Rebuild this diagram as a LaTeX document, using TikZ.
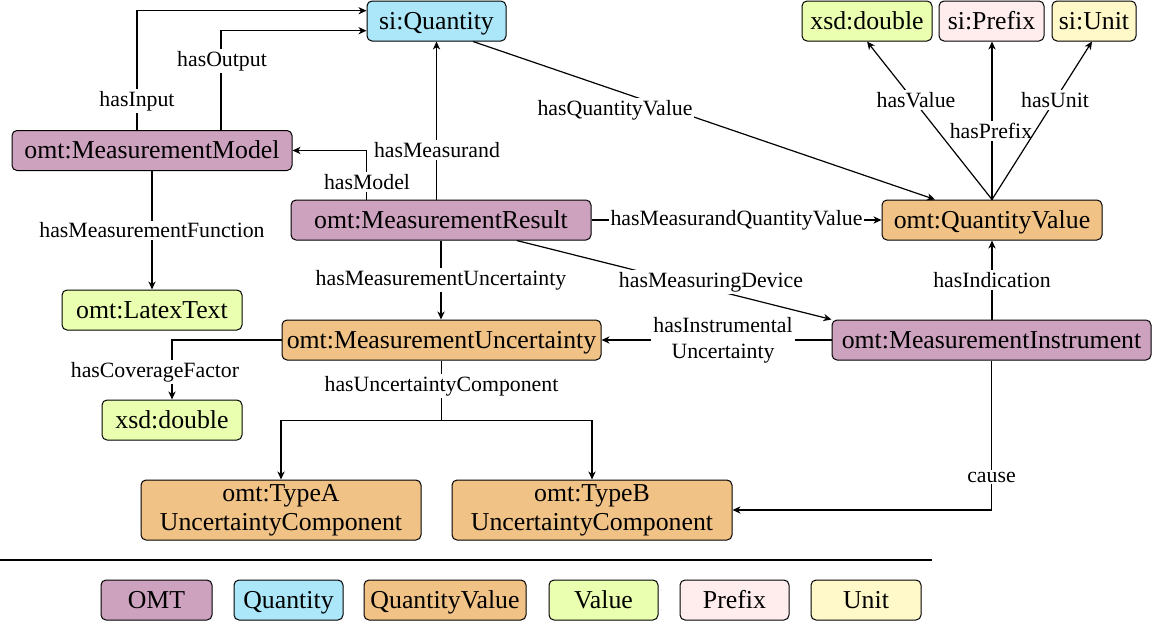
\documentclass[tikz,border=0pt]{standalone}
\usepackage{fontspec}
\setmainfont{Liberation Serif}
\usetikzlibrary{arrows.meta,calc}
\definecolor{omtC}{HTML}{CDA2BE}
\definecolor{qtyC}{HTML}{ABE7F9}
\definecolor{qvC}{HTML}{F0C286}
\definecolor{valC}{HTML}{EBFFB0}
\definecolor{preC}{HTML}{FFEDED}
\definecolor{unitC}{HTML}{FFF8C8}
\newcommand\nodefont{\fontsize{12.9}{14.5}\selectfont}
\newcommand\lblfont{\fontsize{10.9}{13}\selectfont}
\begin{document}
\begin{tikzpicture}[x=0.5pt,y=-0.5pt,
  box/.style={draw, rounded corners=2.5pt, line width=0.5pt, minimum height=20pt,
    inner sep=0pt, font=\nodefont, align=center, text height=10.6pt, text depth=2.4pt},
  twoline/.style={text height=, text depth=, minimum height=30pt},
  omtbox/.style={box, fill=omtC},
  qtybox/.style={box, fill=qtyC},
  qvbox/.style={box, fill=qvC},
  valbox/.style={box, fill=valC},
  prebox/.style={box, fill=preC},
  unitbox/.style={box, fill=unitC},
  conn/.style={line width=0.6pt},
  arr/.style={conn, -{Stealth[length=4pt,width=3.6pt,inset=1.2pt]}},
  lbl/.style={fill=white, inner sep=1pt, font=\lblfont, align=center},
]
\useasboundingbox (0,0) rectangle (1152,621);

% classes
\node[qtybox, minimum width=69.5pt] (q)  at (436.5,21) {si:Quantity};
\node[valbox, minimum width=65pt]   (vd) at (867,21)   {xsd:double};
\node[prebox, minimum width=52.5pt] (pf) at (991.5,21) {si:Prefix};
\node[unitbox, minimum width=42pt]  (un) at (1094,21)  {si:Unit};
\node[omtbox, minimum width=140pt]  (mm) at (152,150.5) {omt:MeasurementModel};
\node[omtbox, minimum width=150pt]  (mr) at (441,220)  {omt:MeasurementResult};
\node[qvbox, minimum width=110pt]   (qv) at (992,220)  {omt:QuantityValue};
\node[valbox, minimum width=90pt]   (lt) at (152,310)  {omt:LatexText};
\node[qvbox, minimum width=159.5pt] (mu) at (441.5,340) {omt:MeasurementUncertainty};
\node[omtbox, minimum width=159.5pt] (mi) at (991.5,340) {omt:MeasurementInstrument};
\node[valbox, minimum width=70pt]   (xd) at (172,420)  {xsd:double};
\node[qvbox, twoline, minimum width=140pt] (ta) at (281,510) {omt:TypeA\\UncertaintyComponent};
\node[qvbox, twoline, minimum width=140pt] (tb) at (592,510) {omt:TypeB\\UncertaintyComponent};

% properties
\draw[arr] ($(mm.north)+(-15,0)$) |- ($(q.west)+(0,-10.3)$)
  node[lbl] (lInput) at (137,101) {hasInput};
\draw[arr] ($(mm.north)+(69,0)$) |- ($(q.west)+(0,9.7)$)
  node[lbl] (lOutput) at (222,61) {hasOutput};
\draw[arr] ($(mr.north)+(-74.5,0)$) |- (mm.east)
  node[lbl] (lModel) at (367,182) {hasModel};
\draw[arr] (q.south |- mr.north) -- (q.south)
  node[lbl] (lMeasurand) at (437,150) {hasMeasurand};
\draw[arr] ($(q.south)+(36.5,0)$) -- ($(qv.north)+(-57,0)$)
  node[lbl] (lQV) at (615,110) {hasQuantityValue};
\draw[arr] (mr.east) -- (qv.west)
  node[lbl, midway] (lMQV) {hasMeasurandQuantityValue};
\draw[arr] (qv.north) -- (vd.south)
  node[lbl] (lValue) at (916,100) {hasValue};
\draw[arr] (qv.north) -- (qv.north |- pf.south)
  node[lbl] (lPrefix) at (991,131) {hasPrefix};
\draw[arr] (qv.north) -- ($(un.south)+(-2,0)$)
  node[lbl] (lUnit) at (1055,100) {hasUnit};
\draw[arr] (mm.south) -- (lt.north)
  node[lbl, midway] (lFunc) {hasMeasurementFunction};
\draw[arr] (mr.south) -- (mr.south |- mu.north)
  node[lbl, midway] (lMU) {hasMeasurementUncertainty};
\draw[arr] ($(mr.south)+(75.7,0)$) -- (mi.north west)
  node[lbl] (lDevice) at (711,282) {hasMeasuringDevice};
\draw[arr] (mi.west) -- (mu.east)
  node[lbl] (lInstr) at (723,340) {hasInstrumental\\Uncertainty};
\draw[arr] (qv.south |- mi.north) -- (qv.south)
  node[lbl, midway] (lIndication) {hasIndication};
\draw[arr] (mu.west) -| (xd.north)
  node[lbl] (lCoverage) at (155,372) {hasCoverageFactor};
\coordinate (split) at ($(mu.south)+(0,60)$);
\draw[conn] (mu.south) -- (split)
  node[lbl, pos=0.43] (lComp) {hasUncertaintyComponent};
\draw[arr] (split) -| (ta.north);
\draw[arr] (split) -| (tb.north);
\draw[arr] (mi.south) |- (tb.east)
  node[lbl] (lCause) at (991.5,477) {cause};

% legend
\coordinate (sepL) at (0,560);
\coordinate (sepR) at (932,560);
\draw[line width=1pt] (sepL) -- (sepR);
\node[omtbox, minimum width=55.5pt]  (kOMT) at (156.5,600) {OMT};
\node[qtybox, minimum width=54.5pt]  (kQty) at (288.5,600) {Quantity};
\node[qvbox, minimum width=81pt]     (kQV)  at (445,600)   {QuantityValue};
\node[valbox, minimum width=54.5pt]  (kVal) at (603.5,600) {Value};
\node[prebox, minimum width=54.5pt]  (kPre) at (734.5,600) {Prefix};
\node[unitbox, minimum width=55pt]   (kUnit) at (866,600)  {Unit};
\end{tikzpicture}
\end{document}
